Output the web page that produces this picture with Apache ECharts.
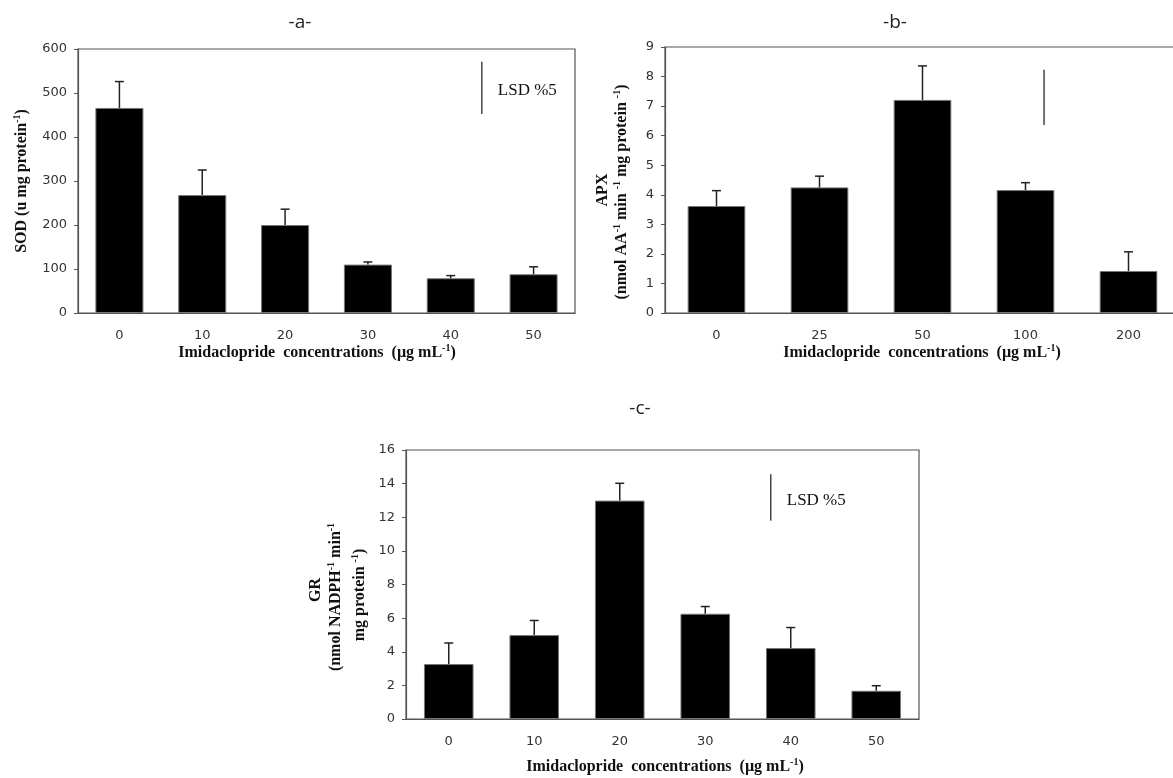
<!DOCTYPE html>
<html>
<head>
<meta charset="utf-8">
<script src="https://cdn.jsdelivr.net/npm/echarts@6/dist/echarts.min.js"></script>
<style>
  html, body { margin: 0; padding: 0; background: #fff; }
  #chart { width: 1173px; height: 778px; }
</style>
</head>
<body>
<div id="chart"></div>
<script>
// Panel a: SOD activity
const concA = ['0', '10', '20', '30', '40', '50'];
const sodMean = [466, 268, 200, 110, 79, 88];
const sodErr = [60, 57, 36, 6, 6, 17];
const sodLsd = [571, 452];          // LSD bar, top and bottom in axis units

// Panel b: APX activity
const concB = ['0', '25', '50', '100', '200'];
const apxMean = [3.62, 4.25, 7.21, 4.16, 1.42];
const apxErr = [0.52, 0.38, 1.15, 0.25, 0.65];
const apxLsd = [8.23, 6.36];

// Panel c: GR activity
const concC = ['0', '10', '20', '30', '40', '50'];
const grMean = [3.27, 4.99, 12.99, 6.26, 4.22, 1.68];
const grErr = [1.25, 0.87, 1.03, 0.43, 1.22, 0.30];
const grLsd = [14.56, 11.8];

const SERIF = '"Liberation Serif", "Times New Roman", serif';
const SANS = '"DejaVu Sans", Verdana, sans-serif';
const AXIS_COLOR = '#555';

const supRich = {
  m: { fontFamily: SERIF, fontWeight: 'bold', fontSize: 16, color: '#111', lineHeight: 20 },
  s: { fontFamily: SERIF, fontWeight: 'bold', fontSize: 10, color: '#111', verticalAlign: 'top', lineHeight: 10 }
};

function grid(left, top, width, height) {
  return {
    left, top, width, height, show: true, outerBoundsMode: 'none',
    borderColor: AXIS_COLOR, borderWidth: 1.2, backgroundColor: '#fff'
  };
}

function xAxis(idx, cats) {
  return {
    type: 'category', gridIndex: idx, data: cats,
    axisLine: { lineStyle: { color: AXIS_COLOR, width: 1.2 } },
    axisTick: { show: false },
    axisLabel: { fontFamily: SANS, fontSize: 13, color: '#333', margin: 16 }
  };
}

function yAxis(idx, max, interval) {
  return {
    type: 'value', gridIndex: idx, min: 0, max, interval,
    axisLine: { show: true, lineStyle: { color: AXIS_COLOR, width: 1.2 } },
    axisTick: { show: true, length: 4, lineStyle: { color: AXIS_COLOR } },
    splitLine: { show: false },
    axisLabel: { fontFamily: SANS, fontSize: 13, color: '#333', margin: 11 }
  };
}

function bars(idx, values, width) {
  return {
    type: 'bar', xAxisIndex: idx, yAxisIndex: idx, data: values, barWidth: width,
    itemStyle: { color: '#000', borderColor: '#777', borderWidth: 1 }, z: 2, silent: true
  };
}

function errorBars(idx, values, errs) {
  return {
    type: 'custom', xAxisIndex: idx, yAxisIndex: idx, z: 3, silent: true,
    data: values.map((v, i) => [i, v, errs[i]]),
    encode: { x: 0, y: 1 },
    renderItem(params, api) {
      const x = api.value(0), v = api.value(1), e = api.value(2);
      const p0 = api.coord([x, v]);
      const p1 = api.coord([x, v + e]);
      const st = { stroke: '#222', lineWidth: 1.5 };
      return {
        type: 'group',
        children: [
          { type: 'line', shape: { x1: p0[0], y1: p0[1], x2: p1[0], y2: p1[1] }, style: st },
          { type: 'line', shape: { x1: p1[0] - 4.5, y1: p1[1], x2: p1[0] + 4.5, y2: p1[1] }, style: st }
        ]
      };
    }
  };
}

// Vertical LSD reference bar placed at a fraction of the plot width
function lsdBar(idx, range, frac, withLabel) {
  return {
    type: 'custom', xAxisIndex: idx, yAxisIndex: idx, z: 4, silent: true,
    data: [[0, range[0], range[1]]],
    encode: { y: 1 },
    renderItem(params, api) {
      const cs = params.coordSys;
      const x = cs.x + cs.width * frac;
      const y1 = api.coord([0, api.value(1)])[1];
      const y2 = api.coord([0, api.value(2)])[1];
      const children = [
        { type: 'line', shape: { x1: x, y1, x2: x, y2 }, style: { stroke: '#444', lineWidth: 1.5 } }
      ];
      if (withLabel) {
        children.push({
          type: 'text',
          style: { text: 'LSD %5', x: x + 16, y: (y1 + y2) / 2 + 3, fontFamily: SERIF, fontSize: 17, fill: '#111', verticalAlign: 'middle', align: 'left' }
        });
      }
      return { type: 'group', children };
    }
  };
}

function label(text, x, y, opts) {
  return Object.assign({
    type: 'text', x, y, silent: true,
    style: { text, align: 'center', verticalAlign: 'middle', fontFamily: SERIF, fontWeight: 'bold', fontSize: 16, fill: '#111', rich: supRich }
  }, opts || {});
}

function panelLetter(text, x, y) {
  return {
    type: 'text', x, y, silent: true,
    style: { text, align: 'center', verticalAlign: 'middle', fontFamily: '"Open Sans", sans-serif', fontSize: 19, fill: '#222' }
  };
}

const xTitle = '{m|Imidaclopride  concentrations  (µg mL}{s|-1}{m|)}';

const option = {
  backgroundColor: '#fff',
  animation: false,
  grid: [grid(78, 49, 497, 264), grid(665, 47, 515, 266), grid(406, 450, 513, 269)],
  xAxis: [xAxis(0, concA), xAxis(1, concB), xAxis(2, concC)],
  yAxis: [yAxis(0, 600, 100), yAxis(1, 9, 1), yAxis(2, 16, 2)],
  series: [
    bars(0, sodMean, '58%'), errorBars(0, sodMean, sodErr), lsdBar(0, sodLsd, 0.8125, true),
    bars(1, apxMean, '56%'), errorBars(1, apxMean, apxErr), lsdBar(1, apxLsd, 0.736, false),
    bars(2, grMean, '58%'), errorBars(2, grMean, grErr), lsdBar(2, grLsd, 0.711, true)
  ],
  graphic: [
    panelLetter('-a-', 300, 23),
    panelLetter('-b-', 895, 23),
    panelLetter('-c-', 640, 409),
    // x-axis titles
    label(xTitle, 317, 353),
    label(xTitle, 922, 353),
    label(xTitle, 665, 767),
    // y-axis titles
    label('{m|SOD (u mg protein}{s|-1}{m|)}', 22, 181, { rotation: Math.PI / 2 }),
    label('{m|APX}', 603, 190, { rotation: Math.PI / 2 }),
    label('{m|(nmol AA}{s|-1}{m| min }{s|-1}{m| mg protein }{s|-1}{m|)}', 622, 192, { rotation: Math.PI / 2 }),
    label('{m|GR}', 316, 590, { rotation: Math.PI / 2 }),
    label('{m|(nmol NADPH}{s|-1}{m| min}{s|-1}', 336, 597, { rotation: Math.PI / 2 }),
    label('{m|mg protein }{s|-1}{m|)}', 360, 595, { rotation: Math.PI / 2 })
  ]
};

const chart = echarts.init(document.getElementById('chart'), null, { renderer: 'canvas' });
chart.setOption(option);
</script>
</body>
</html>
